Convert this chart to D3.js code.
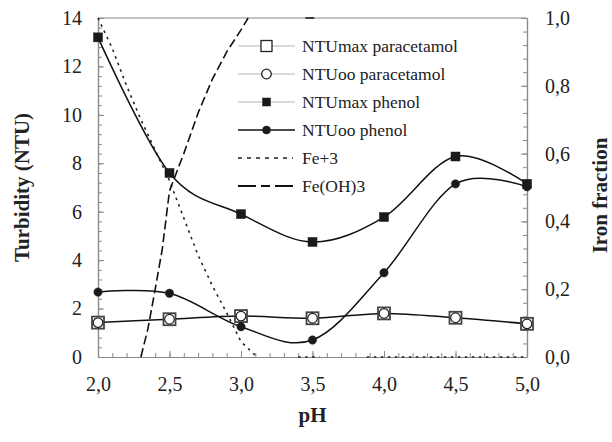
<!DOCTYPE html>
<html><head><meta charset="utf-8">
<script src="https://cdn.jsdelivr.net/npm/d3@7"></script>
<style>body{margin:0;background:#fff} svg{display:block}</style>
</head><body>
<svg id="c" width="612" height="442"></svg>
<script>
// ---- data ----
const pH = [2.0, 2.5, 3.0, 3.5, 4.0, 4.5, 5.0];
const ntuMaxParacetamol = [1.42, 1.56, 1.69, 1.60, 1.80, 1.62, 1.37];
const ntuOoParacetamol  = [1.42, 1.56, 1.69, 1.60, 1.80, 1.62, 1.37];
const ntuMaxPhenol = [13.2, 7.6, 5.9, 4.75, 5.78, 8.28, 7.15];
const ntuOoPhenol  = [2.68, 2.63, 1.25, 0.70, 3.48, 7.15, 7.03];
const fe3PH = [2.0, 2.1, 2.2, 2.3, 2.4, 2.5, 2.6, 2.7, 2.8, 2.9, 3.0, 3.1, 3.12, null, 3.4, 3.55, null, 3.88, 5.0];
const fe3   = [1.0, 0.91, 0.80, 0.70, 0.61, 0.52, 0.41, 0.30, 0.21, 0.13, 0.045, 0.005, 0.0, null, 0.0, 0.0, null, 0.0, 0.0];
const feOH3PH = [2.3, 2.35, 2.4, 2.45, 2.5, 2.6, 2.7, 2.8, 2.9, 3.0, 3.05, null, 3.45, 3.52];
const feOH3   = [0.0, 0.085, 0.20, 0.32, 0.49, 0.60, 0.72, 0.82, 0.90, 0.965, 1.0, null, 1.0, 1.0];
const xTicks = [2.0, 2.5, 3.0, 3.5, 4.0, 4.5, 5.0];
const leftTicks = [0, 2, 4, 6, 8, 10, 12, 14];
const rightTicks = [0.0, 0.2, 0.4, 0.6, 0.8, 1.0];
const legendLabels = ["NTUmax paracetamol", "NTUoo paracetamol", "NTUmax phenol", "NTUoo phenol", "Fe+3", "Fe(OH)3"];

// ---- layout ----
const svg = d3.select("#c");
const L = 98, R = 527, T = 18, B = 357;
const x = d3.scaleLinear().domain([2, 5]).range([L, R]);
const yL = d3.scaleLinear().domain([0, 14]).range([B, T]);
const yR = d3.scaleLinear().domain([0, 1]).range([B, T]);
const comma = v => d3.format(".1f")(v).replace(".", ",");
const axisCol = "#8a8a8a";

function styleAxis(g) {
  g.selectAll("path.domain").attr("stroke", axisCol).attr("stroke-width", 1.2);
  g.selectAll(".tick line").attr("stroke", axisCol).attr("stroke-width", 1);
  g.selectAll("text").attr("font-size", 20).attr("fill", "#222");
}

// minor ticks
const minorX = d3.range(2.0, 5.0001, 0.1);
const minorL = d3.range(0, 14.0001, 0.4);
const minorR = d3.range(0, 1.0001, 0.04);
svg.append("g").attr("transform", `translate(0,${B})`)
  .call(d3.axisBottom(x).tickValues(minorX).tickSize(-4).tickSizeOuter(0).tickFormat(""))
  .call(styleAxis);
svg.append("g").attr("transform", `translate(${L},0)`)
  .call(d3.axisLeft(yL).tickValues(minorL).tickSize(-4).tickSizeOuter(0).tickFormat(""))
  .call(styleAxis);
svg.append("g").attr("transform", `translate(${R},0)`)
  .call(d3.axisRight(yR).tickValues(minorR).tickSize(-4).tickSizeOuter(0).tickFormat(""))
  .call(styleAxis);

// major axes
svg.append("g").attr("transform", `translate(0,${B})`)
  .call(d3.axisBottom(x).tickValues(xTicks).tickSize(-6).tickSizeOuter(0).tickPadding(20).tickFormat(comma))
  .call(styleAxis);
svg.append("g").attr("transform", `translate(${L},0)`)
  .call(d3.axisLeft(yL).tickValues(leftTicks).tickSize(-6).tickSizeOuter(0).tickPadding(16).tickFormat(d3.format("d")))
  .call(styleAxis);
svg.append("g").attr("transform", `translate(${R},0)`)
  .call(d3.axisRight(yR).tickValues(rightTicks).tickSize(-6).tickSizeOuter(0).tickPadding(18).tickFormat(comma))
  .call(styleAxis);
// top border
svg.append("line").attr("x1", L).attr("x2", R).attr("y1", T).attr("y2", T)
  .attr("stroke", axisCol).attr("stroke-width", 1.2);

// axis titles
svg.append("text").attr("transform", `translate(${(L + R) / 2},422)`)
  .attr("text-anchor", "middle").attr("font-weight", "bold")
  .attr("font-size", 21).attr("fill", "#222").text("pH");
svg.append("text").attr("transform", `translate(29,${(T + B) / 2}) rotate(-90)`)
  .attr("text-anchor", "middle").attr("font-weight", "bold")
  .attr("font-size", 21).attr("fill", "#222").text("Turbidity (NTU)");
svg.append("text").attr("transform", `translate(607,${(T + B) / 2 + 8}) rotate(-90)`)
  .attr("text-anchor", "middle").attr("font-weight", "bold")
  .attr("font-size", 21).attr("fill", "#222").text("Iron fraction");

// ---- lines ----
const plot = svg.append("g");
const smooth = d3.curveCardinal.tension(0);
function seriesLine(vals, yScale, curve) {
  return d3.line().defined((d, i) => vals[i] !== null && d !== null)
    .x(d => x(d)).y((d, i) => yScale(vals[i])).curve(curve);
}
plot.append("path").attr("d", seriesLine(fe3, yR, d3.curveLinear)(fe3PH))
  .attr("fill", "none").attr("stroke", "#222").attr("stroke-width", 1.6).attr("stroke-dasharray", "2.5,4.5");
plot.append("path").attr("d", seriesLine(feOH3, yR, d3.curveLinear)(feOH3PH))
  .attr("fill", "none").attr("stroke", "#111").attr("stroke-width", 1.6).attr("stroke-dasharray", "9,4");
[ntuOoParacetamol, ntuMaxPhenol, ntuOoPhenol].forEach(vals => {
  plot.append("path").attr("d", seriesLine(vals, yL, smooth)(pH))
    .attr("fill", "none").attr("stroke", "#111").attr("stroke-width", 1.5);
});

// ---- markers ----
function sq(g, cx, cy, s, fill, stroke, sw) {
  g.append("rect").attr("x", cx - s / 2).attr("y", cy - s / 2).attr("width", s).attr("height", s)
    .attr("fill", fill).attr("stroke", stroke).attr("stroke-width", sw);
}
function ci(g, cx, cy, r, fill, stroke, sw) {
  g.append("circle").attr("cx", cx).attr("cy", cy).attr("r", r)
    .attr("fill", fill).attr("stroke", stroke).attr("stroke-width", sw);
}
pH.forEach((p, i) => sq(plot, x(p), yL(ntuMaxParacetamol[i]), 12, "#fff", "#444", 1.8));
pH.forEach((p, i) => ci(plot, x(p), yL(ntuOoParacetamol[i]), 4.8, "#fff", "#222", 1.2));
pH.forEach((p, i) => sq(plot, x(p), yL(ntuMaxPhenol[i]), 9, "#1a1a1a", "#1a1a1a", 0.5));
pH.forEach((p, i) => ci(plot, x(p), yL(ntuOoPhenol[i]), 4.2, "#1a1a1a", "#1a1a1a", 0.5));

// ---- legend ----
const leg = svg.append("g");
const lx0 = 238, lx1 = 295, lmx = 266.5, ltx = 302, ly0 = 46, ldy = 28;
legendLabels.forEach((lab, i) => {
  const yy = ly0 + i * ldy;
  const ln = leg.append("line").attr("x1", lx0).attr("x2", lx1).attr("y1", yy).attr("y2", yy);
  if (i < 3) ln.attr("stroke", "#b5b5b5").attr("stroke-width", 1);
  else if (i === 3) ln.attr("stroke", "#111").attr("stroke-width", 1.5);
  else if (i === 4) ln.attr("x2", 293).attr("stroke", "#222").attr("stroke-width", 1.6).attr("stroke-dasharray", "4,5");
  else ln.attr("x2", 293).attr("stroke", "#111").attr("stroke-width", 1.8).attr("stroke-dasharray", "18,5,9,5");
  if (i === 0) sq(leg, lmx, yy, 11, "#fff", "#222", 1.3);
  if (i === 1) ci(leg, lmx, yy, 4.8, "#fff", "#222", 1.3);
  if (i === 2) sq(leg, lmx, yy, 8, "#1a1a1a", "#1a1a1a", 0.5);
  if (i === 3) ci(leg, lmx, yy, 4, "#1a1a1a", "#1a1a1a", 0.5);
  leg.append("text").attr("x", ltx).attr("y", yy + 6)
    .attr("font-size", 17.5).attr("fill", "#222").text(lab);
});

// serif font for every text
svg.selectAll("text").style("font-family", '"Liberation Serif"');
</script>
</body></html>
